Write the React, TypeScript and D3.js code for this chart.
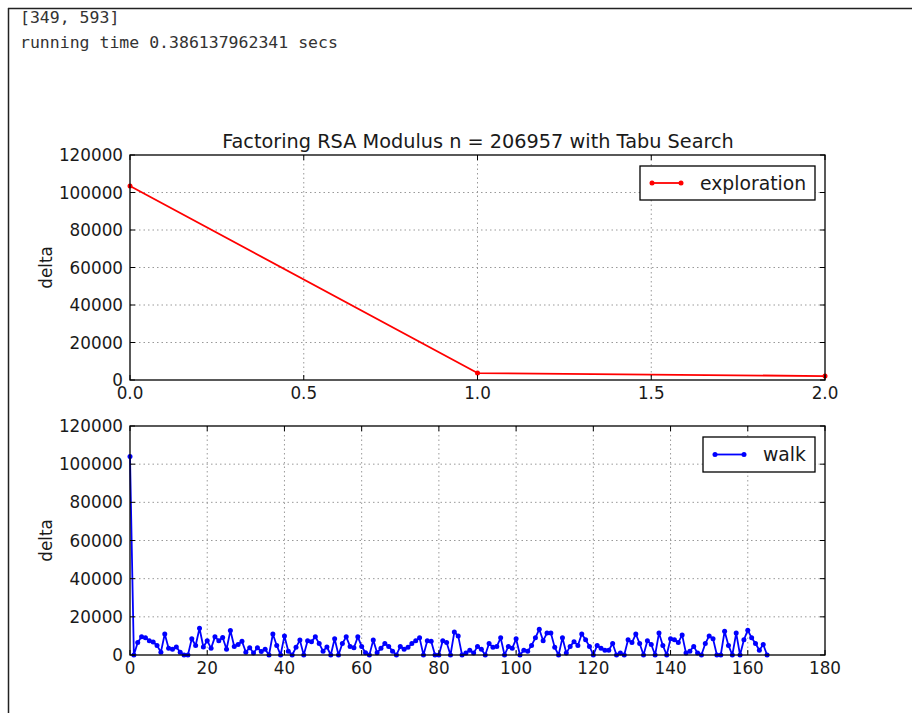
import React, { useEffect, useRef } from "react"
import * as d3 from "d3"

const headerLines = ["[349, 593]", "running time 0.386137962341 secs"]
const chartTitle = "Factoring RSA Modulus n = 206957 with Tabu Search"

const explorationX = [0, 1, 2]
const explorationDelta = [103500, 3700, 2100]

const walkDelta = [
    104000, 0, 6500, 9500, 9000, 7500, 6800, 5000, 1500, 11000,
    3500, 3000, 4200, 1500, 0, 0, 8500, 5000, 14000, 4200,
    7500, 3500, 9500, 7500, 9200, 3000, 12800, 4500, 5500, 7200,
    1500, 3800, 1000, 3800, 1800, 3000, 0, 11000, 5000, 0,
    10000, 2000, 0, 4000, 7800, 0, 7500, 7000, 9500, 6000,
    2000, 4200, 0, 8500, 0, 6000, 9500, 4500, 3800, 9500,
    4500, 1200, 0, 7800, 1200, 3500, 6000, 4500, 2000, 0,
    4500, 3000, 4000, 6000, 7500, 9000, 0, 7500, 7200, 0,
    0, 7500, 6500, 0, 12000, 10000, 0, 1000, 2500, 1000,
    4500, 3000, 0, 6000, 4000, 4500, 9000, 0, 4500, 3500,
    8500, 0, 2500, 2000, 5000, 9000, 13500, 7500, 11500, 11500,
    4000, 0, 9000, 1000, 4500, 7000, 5000, 11000, 8000, 4500,
    0, 5000, 3500, 2500, 2500, 6000, 0, 1000, 0, 8000,
    6500, 11000, 6000, 0, 7500, 5500, 0, 11500, 5000, 0,
    8500, 8000, 6500, 10500, 1000, 2000, 4500, 1000, 0, 6000,
    10000, 8500, 0, 0, 12500, 5000, 0, 11500, 0, 8000,
    13000, 9000, 6000, 2500, 5500, 0,
]

const deltaTicks = [0, 20000, 40000, 60000, 80000, 100000, 120000]
const explorationTicks = [0, 0.5, 1, 1.5, 2]
const walkTicks = [0, 20, 40, 60, 80, 100, 120, 140, 160, 180]

const FONT = "'DejaVu Sans', sans-serif"
const INK = "#1a1a1a"

const App = () => {
    const svgRef = useRef(null)

    useEffect(() => {
        const svg = d3.select(svgRef.current)
        svg.selectAll("*").remove()

        // notebook cell frame
        svg.append("line")
            .attr("x1", 8).attr("x2", 912).attr("y1", 8.5).attr("y2", 8.5)
            .attr("stroke", "#222").attr("stroke-width", 1.5)
        svg.append("line")
            .attr("x1", 8.5).attr("x2", 8.5).attr("y1", 8).attr("y2", 713)
            .attr("stroke", "#222").attr("stroke-width", 1.5)

        headerLines.forEach((t, i) => {
            svg.append("text")
                .attr("x", 20)
                .attr("y", 23 + i * 25)
                .attr("font-family", "'DejaVu Sans Mono', monospace")
                .attr("font-size", 16.5)
                .attr("fill", "#333")
                .text(t)
        })

        const drawPanel = (opts) => {
            const { top, bottom, left, right, xDomain, xTicks, xFmt, xs, ys, color, label, legend } = opts
            const x = d3.scaleLinear().domain(xDomain).range([left, right])
            const y = d3.scaleLinear().domain([0, 120000]).range([bottom, top])
            const g = svg.append("g")

            // grid
            g.selectAll(".gx").data(xTicks.slice(1, -1)).enter().append("line")
                .attr("x1", (d) => x(d)).attr("x2", (d) => x(d))
                .attr("y1", top).attr("y2", bottom)
                .attr("stroke", "#999").attr("stroke-width", 1)
                .attr("stroke-dasharray", "1.5,3")
            g.selectAll(".gy").data(deltaTicks.slice(1, -1)).enter().append("line")
                .attr("x1", left).attr("x2", right)
                .attr("y1", (d) => y(d)).attr("y2", (d) => y(d))
                .attr("stroke", "#999").attr("stroke-width", 1)
                .attr("stroke-dasharray", "1.5,3")

            // data
            const pts = xs.map((v, i) => [x(v), y(ys[i])])
            g.append("path")
                .attr("d", d3.line()(pts))
                .attr("fill", "none")
                .attr("stroke", color)
                .attr("stroke-width", 1.8)
                .attr("stroke-linejoin", "round")
            g.selectAll(".pt").data(pts).enter().append("circle")
                .attr("cx", (d) => d[0]).attr("cy", (d) => d[1])
                .attr("r", 2.5).attr("fill", color)

            // ticks inside
            xTicks.forEach((t) => {
                g.append("line").attr("x1", x(t)).attr("x2", x(t))
                    .attr("y1", bottom).attr("y2", bottom - 5)
                    .attr("stroke", "#000")
                g.append("line").attr("x1", x(t)).attr("x2", x(t))
                    .attr("y1", top).attr("y2", top + 5)
                    .attr("stroke", "#000")
                g.append("text")
                    .attr("x", x(t)).attr("y", bottom + 19)
                    .attr("text-anchor", "middle")
                    .attr("font-family", FONT).attr("font-size", 16.8)
                    .attr("fill", INK)
                    .text(xFmt(t))
            })
            deltaTicks.forEach((t) => {
                g.append("line").attr("x1", left).attr("x2", left + 5)
                    .attr("y1", y(t)).attr("y2", y(t))
                    .attr("stroke", "#000")
                g.append("line").attr("x1", right).attr("x2", right - 5)
                    .attr("y1", y(t)).attr("y2", y(t))
                    .attr("stroke", "#000")
                g.append("text")
                    .attr("x", left - 7).attr("y", y(t) + 6)
                    .attr("text-anchor", "end")
                    .attr("font-family", FONT).attr("font-size", 16.8)
                    .attr("fill", INK)
                    .text(t)
            })

            g.append("rect")
                .attr("x", left).attr("y", top)
                .attr("width", right - left).attr("height", bottom - top)
                .attr("fill", "none").attr("stroke", "#000").attr("stroke-width", 1.3)

            g.append("text")
                .attr("transform", `translate(${left - 78},${(top + bottom) / 2}) rotate(-90)`)
                .attr("text-anchor", "middle")
                .attr("font-family", FONT).attr("font-size", 16.8)
                .attr("fill", INK)
                .text(label)

            // legend
            const lg = g.append("g")
            lg.append("rect")
                .attr("x", legend.x).attr("y", legend.y)
                .attr("width", legend.w).attr("height", legend.h)
                .attr("fill", "#fff").attr("stroke", "#000").attr("stroke-width", 1.3)
            const ly = legend.y + legend.h / 2
            lg.append("line")
                .attr("x1", legend.x + 12).attr("x2", legend.x + 41)
                .attr("y1", ly).attr("y2", ly)
                .attr("stroke", color).attr("stroke-width", 1.8)
            ;[legend.x + 12, legend.x + 41].forEach((cx) => {
                lg.append("circle").attr("cx", cx).attr("cy", ly).attr("r", 2.5).attr("fill", color)
            })
            lg.append("text")
                .attr("x", legend.x + 60).attr("y", ly + 6.5)
                .attr("font-family", FONT).attr("font-size", 18.8)
                .attr("fill", INK)
                .text(legend.text)
        }

        svg.append("text")
            .attr("x", 478).attr("y", 148)
            .attr("text-anchor", "middle")
            .attr("font-family", FONT).attr("font-size", 19.3)
            .attr("fill", INK)
            .text(chartTitle)

        drawPanel({
            top: 155, bottom: 380, left: 130, right: 825,
            xDomain: [0, 2], xTicks: explorationTicks,
            xFmt: (t) => t.toFixed(1),
            xs: explorationX, ys: explorationDelta, color: "#ff0000",
            label: "delta",
            legend: { x: 640, y: 166, w: 175, h: 34, text: "exploration" },
        })

        drawPanel({
            top: 426, bottom: 655, left: 130, right: 825,
            xDomain: [0, 180], xTicks: walkTicks,
            xFmt: (t) => String(t),
            xs: walkDelta.map((_, i) => i), ys: walkDelta, color: "#0000ff",
            label: "delta",
            legend: { x: 703, y: 437, w: 112, h: 35, text: "walk" },
        })
    }, [])

    return (
        <div style={{ position: "absolute", left: 0, top: 0 }}>
            <svg ref={svgRef} width={912} height={713} style={{ display: "block", background: "#fff" }} />
        </div>
    )
}

export default App
